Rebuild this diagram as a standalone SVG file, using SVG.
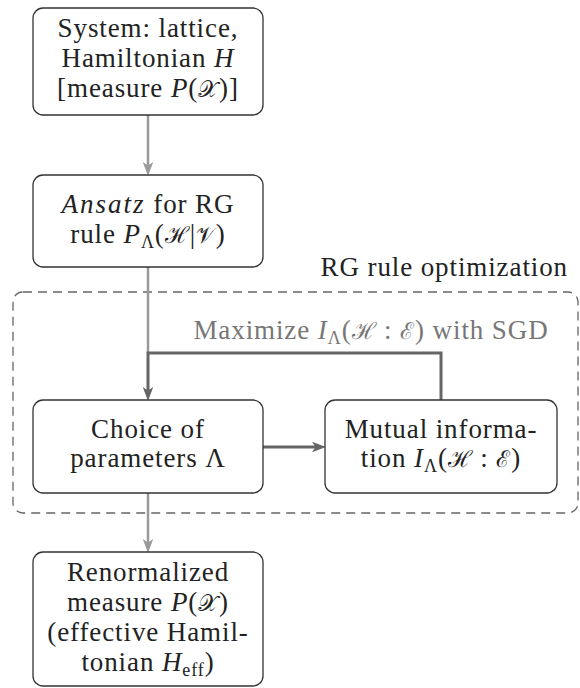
<svg xmlns="http://www.w3.org/2000/svg" width="580" height="688" viewBox="0 0 580 688">
<style>
.box{fill:#fff;stroke:#333;stroke-width:1.3}
.light{fill:none;stroke:#9a9a9a;stroke-width:2.5}
.dark{fill:none;stroke:#666;stroke-width:3}
</style>
<defs>
<marker id="al" markerUnits="userSpaceOnUse" markerWidth="14" markerHeight="12" viewBox="0 0 12 10" refX="6" refY="5" orient="auto">
<path d="M0,0.5 L12,5 L0,9.5 L3,5 z" fill="#9a9a9a"/>
</marker>
<marker id="ad" markerUnits="userSpaceOnUse" markerWidth="14" markerHeight="12" viewBox="0 0 12 10" refX="6" refY="5" orient="auto">
<path d="M0,0.5 L12,5 L0,9.5 L3,5 z" fill="#666"/>
</marker>
</defs>
<rect x="13" y="292" width="565" height="221" rx="10" fill="none" stroke="#666" stroke-width="1.3" stroke-dasharray="9,6"/>
<text x="568" y="276" font-family="Liberation Serif" font-size="27" letter-spacing="0.9" fill="#222" text-anchor="end">RG rule optimization</text>
<text x="371" y="339" font-family="Liberation Serif" font-size="27" letter-spacing="0.9" fill="#777" text-anchor="middle">Maximize <tspan font-style="italic">I</tspan><tspan font-size="18" dy="5">Λ</tspan><tspan dy="-5">(</tspan><tspan font-size="23">ℋ</tspan> : <tspan font-size="23">ℰ</tspan>) with SGD</text>
<g id="connectors">
<path class="light" d="M148 115 V169" marker-end="url(#al)"/>
<path class="light" d="M148 267 V353"/>
<path class="dark" d="M441 400 V353 H148 V394" marker-end="url(#ad)"/>
<path class="dark" d="M263 447 H319" marker-end="url(#ad)"/>
<path class="light" d="M148 493 V546" marker-end="url(#al)"/>
</g>
<g id="system">
<rect class="box" x="33" y="8" width="230" height="107" rx="10"/>
<text x="148" y="37" font-family="Liberation Serif" font-size="27" letter-spacing="0.9" fill="#222" text-anchor="middle">System: lattice,</text>
<text x="148" y="67" font-family="Liberation Serif" font-size="27" letter-spacing="0.9" fill="#222" text-anchor="middle">Hamiltonian <tspan font-style="italic">H</tspan></text>
<text x="148" y="97" font-family="Liberation Serif" font-size="27" letter-spacing="0.9" fill="#222" text-anchor="middle">[measure <tspan font-style="italic">P</tspan>(<tspan font-size="23">𝒳</tspan>)]</text>
</g>
<g id="ansatz">
<rect class="box" x="33" y="175" width="230" height="92" rx="10"/>
<text x="148" y="213" font-family="Liberation Serif" font-size="27" letter-spacing="0.9" fill="#222" text-anchor="middle"><tspan font-style="italic" letter-spacing="2">Ansatz</tspan> for RG</text>
<text x="148" y="243" font-family="Liberation Serif" font-size="27" letter-spacing="0.9" fill="#222" text-anchor="middle">rule <tspan font-style="italic">P</tspan><tspan font-size="18" dy="5">Λ</tspan><tspan dy="-5">(</tspan><tspan font-size="23">ℋ</tspan>|<tspan font-size="23">𝒱</tspan>)</text>
</g>
<g id="choice">
<rect class="box" x="33" y="400" width="230" height="93" rx="10"/>
<text x="148" y="438" font-family="Liberation Serif" font-size="27" letter-spacing="0.9" fill="#222" text-anchor="middle">Choice of</text>
<text x="148" y="467" font-family="Liberation Serif" font-size="27" letter-spacing="0.9" fill="#222" text-anchor="middle">parameters Λ</text>
</g>
<g id="mutual">
<rect class="box" x="325" y="400" width="232" height="93" rx="10"/>
<text x="441" y="438" font-family="Liberation Serif" font-size="27" letter-spacing="0.9" fill="#222" text-anchor="middle">Mutual informa-</text>
<text x="441" y="467" font-family="Liberation Serif" font-size="27" letter-spacing="0.9" fill="#222" text-anchor="middle">tion <tspan font-style="italic">I</tspan><tspan font-size="18" dy="5">Λ</tspan><tspan dy="-5">(</tspan><tspan font-size="23">ℋ</tspan> : <tspan font-size="23">ℰ</tspan>)</text>
</g>
<g id="renormalized">
<rect class="box" x="33" y="552" width="230" height="134" rx="10"/>
<text x="148" y="581" font-family="Liberation Serif" font-size="27" letter-spacing="0.9" fill="#222" text-anchor="middle">Renormalized</text>
<text x="148" y="611" font-family="Liberation Serif" font-size="27" letter-spacing="0.9" fill="#222" text-anchor="middle">measure <tspan font-style="italic">P</tspan>(<tspan font-size="23">𝒳</tspan>)</text>
<text x="148" y="641" font-family="Liberation Serif" font-size="27" letter-spacing="0.9" fill="#222" text-anchor="middle">(effective Hamil-</text>
<text x="148" y="671" font-family="Liberation Serif" font-size="27" letter-spacing="0.9" fill="#222" text-anchor="middle">tonian <tspan font-style="italic">H</tspan><tspan font-size="18" dy="5">eff</tspan><tspan dy="-5">)</tspan></text>
</g>
</svg>
